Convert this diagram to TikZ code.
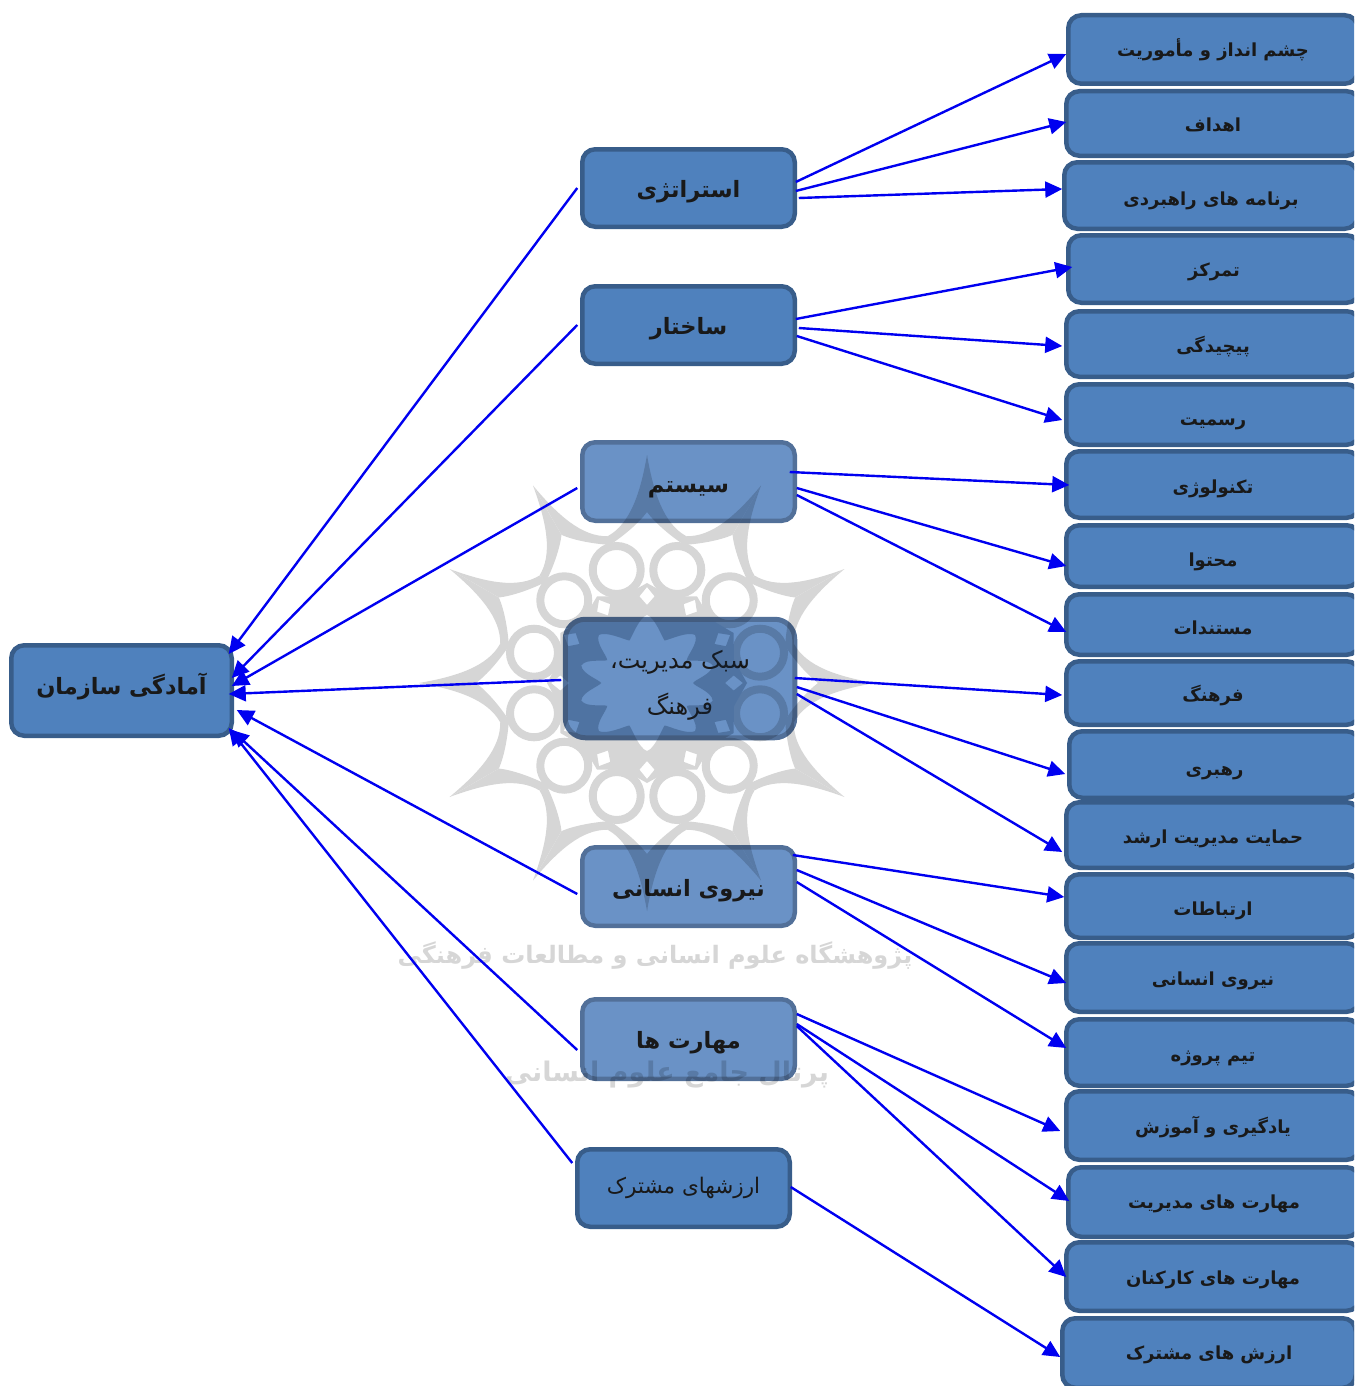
\documentclass[tikz,border=0pt]{standalone}
\usepackage{fontspec}
\usetikzlibrary{arrows.meta}
\TeXXeTstate=1
\newfontfamily\arf[Script=Arabic]{DejaVu Sans}
\newcommand\fa[2][0]{\raisebox{-#1pt}{\arf\beginR #2\endR}}
\definecolor{boxfill}{HTML}{4F81BD}
\definecolor{boxline}{HTML}{385D8A}
\definecolor{lightfill}{HTML}{6A92C6}
\definecolor{lightline}{HTML}{527099}
\definecolor{conncol}{HTML}{0000F0}
\definecolor{wmdark}{HTML}{1F4F90}
\tikzset{
  bx/.style={draw=boxline,fill=boxfill,line width=4.5pt,rounded corners=13pt,inner sep=0pt,outer sep=0pt,align=center,text=black!90},
  lightbx/.style={bx,draw=lightline,fill=lightfill},
  rtext/.style={font=\fontsize{18}{20}\selectfont\bfseries,text height=19pt,text depth=6pt},
  mtext/.style={font=\fontsize{22.5}{26}\selectfont\bfseries,text height=22pt,text depth=6pt},
  ntext/.style={font=\fontsize{21.5}{26}\selectfont,text height=20pt,text depth=6pt},
  sabktext/.style={font=\fontsize{24}{46}\selectfont},
  conn/.style={draw=conncol,line width=2.4pt,-{Triangle[length=17pt,width=16pt]}},
}
\newcommand\bxn[7]{% name x1 y1 x2 y2 style text
  \pgfmathsetmacro\bw{#4-#2-4.5}\pgfmathsetmacro\bh{#5-#3-4.5}
  \node[#6,minimum width=\bw pt,minimum height=\bh pt] (#1) at ({(#2+#4)/2},{(#3+#5)/2}) {#7};}
\newcommand\connR[6]{\draw[conn] ([shift={(#2pt,#3pt)}]#1.east) -- ([shift={(#5pt,#6pt)}]#4.west);}
\newcommand\connL[6]{\draw[conn] ([shift={(#2pt,#3pt)}]#1.west) -- ([shift={(#5pt,#6pt)}]#4.east);}
% central solid part of the watermark
\newcommand\wmdisc{
   (0:100) \foreach \a in {15,45,...,345}{ -- (\a:90) -- (\a+15:100)}
   -- cycle
   (90:68) \foreach \a/\b in {90/135,135/165,165/195,195/225,225/270,270/315,315/345,345/375,375/405,405/450}{
      .. controls ({\a+7}:66) and ({(\a+\b)/2-4}:48) .. ({(\a+\b)/2}:46)
      .. controls ({(\a+\b)/2+4}:48) and ({\b-7}:66) .. (\b:68)}
   -- cycle
   \foreach \a in {0,30,...,330}{ (\a:96) -- (\a+5:87) -- (\a:78) -- (\a-5:87) -- cycle}
}
\begin{document}
\begin{tikzpicture}[x=1pt,y=-1pt]
\useasboundingbox (0,0) rectangle (1354,1386);
\clip (0,0) rectangle (1354,1386);
% right column
\bxn{r1}{1066}{13}{1360}{86}{bx,rtext}{\fa[0.5]{چشم انداز و مأموریت}}
\bxn{r2}{1064}{89}{1362}{158}{bx,rtext}{\fa[1.5]{اهداف}}
\bxn{r3}{1062}{160}{1360}{231}{bx,rtext}{\fa[3.5]{برنامه های راهبردی}}
\bxn{r4}{1066}{233}{1362}{305}{bx,rtext}{\fa[1]{تمرکز}}
\bxn{r5}{1064}{309}{1362}{379}{bx,rtext}{\fa[2]{پیچیدگی}}
\bxn{r6}{1064}{382}{1362}{447}{bx,rtext}{\fa[4.5]{رسمیت}}
\bxn{r7}{1064}{449}{1362}{520}{bx,rtext}{\fa[2.5]{تکنولوژی}}
\bxn{r8}{1064}{523}{1362}{589}{bx,rtext}{\fa[4]{محتوا}}
\bxn{r9}{1064}{592}{1362}{657}{bx,rtext}{\fa[3.5]{مستندات}}
\bxn{r10}{1064}{659}{1362}{727}{bx,rtext}{\fa[2]{فرهنگ}}
\bxn{r11}{1067}{729}{1362}{800}{bx,rtext}{\fa[4.5]{رهبری}}
\bxn{r12}{1064}{800}{1362}{870}{bx,rtext}{\fa[2]{حمایت مدیریت ارشد}}
\bxn{r13}{1064}{872}{1362}{940}{bx,rtext}{\fa[3]{ارتباطات}}
\bxn{r14}{1064}{941}{1362}{1014}{bx,rtext}{\fa[1.5]{نیروی انسانی}}
\bxn{r15}{1064}{1017}{1362}{1088}{bx,rtext}{\fa[2.5]{تیم پروژه}}
\bxn{r16}{1064}{1089}{1362}{1162}{bx,rtext}{\fa[1.5]{یادگیری و آموزش}}
\bxn{r17}{1066}{1165}{1362}{1239}{bx,rtext}{\fa[0]{مهارت های مدیریت}}
\bxn{r18}{1064}{1240}{1362}{1313}{bx,rtext}{\fa[1.5]{مهارت های کارکنان}}
\bxn{r19}{1060}{1316}{1358}{1390}{bx,rtext}{\fa[0]{ارزش های مشترک}}
% middle column
\bxn{strat}{580}{147}{797}{229}{bx,mtext}{\fa[1]{استراتژی}}
\bxn{sakh}{580}{284}{797}{366}{bx,mtext}{\fa[1]{ساختار}}
\bxn{sist}{580}{440}{797}{523}{lightbx,mtext}{\fa[3]{سیستم}}
\bxn{sabk}{563}{617}{797}{740}{lightbx,line width=5pt,rounded corners=20pt,sabktext}{\rule{0pt}{32pt}\fa{سبک مدیریت،}\\\fa{فرهنگ}}
\bxn{niru}{580}{845}{797}{928}{lightbx,mtext}{\fa[1.5]{نیروی انسانی}}
\bxn{mahar}{580}{997}{797}{1081}{lightbx,mtext}{\fa[1]{مهارت ها}}
\bxn{arz}{575}{1147}{792}{1229}{bx,ntext}{\fa[-2]{ارزشهای مشترک}}
\bxn{root}{9}{643}{234}{738}{bx,mtext}{\fa[-4]{آمادگی سازمان}}
% watermark
\begin{scope}[transparency group,opacity=.16,x=1pt,y=1pt,shift={(647,-683)}]
 \fill[even odd rule,black] \wmdisc;
 \foreach \a in {15,45,...,345}{
   \draw[black,line width=8pt] (\a:117) circle (24pt);
   \draw[black,line width=7pt] (\a:138) -- (\a:150);
 }
 \foreach \a in {0,30,...,330}{
   \fill[black] (\a:228) .. controls (\a+2:190) and (\a+6:160) .. (\a+15:152)
      -- (\a+15:143) .. controls (\a+9:149) and (\a+3:160) .. (\a:171) -- cycle;
   \fill[black] (\a:228) .. controls (\a-2:190) and (\a-6:160) .. (\a-15:152)
      -- (\a-15:143) .. controls (\a-9:149) and (\a-3:160) .. (\a:171) -- cycle;
 }
 \node[font=\fontsize{24}{40}\selectfont\bfseries,text=black] (wm1) at (8,-273) {\fa{پژوهشگاه علوم انسانی و مطالعات فرهنگی}};
 \node[font=\fontsize{27}{40}\selectfont\bfseries,text=black] (wm2) at (20,-392) {\fa{پرتال جامع علوم انسانی}};
\end{scope}
% extra darkening of the watermark inside the sabk box
\begin{scope}
 \clip[rounded corners=18pt] ([shift={(2.5pt,-2.5pt)}]sabk.north west) rectangle ([shift={(-2.5pt,2.5pt)}]sabk.south east);
 \begin{scope}[x=1pt,y=1pt,shift={(647,-683)}]
  \fill[even odd rule,wmdark,opacity=.14] \wmdisc;
 \end{scope}
\end{scope}
% connectors to root
\connL{strat}{-5}{0}{root}{-3}{36.5}
\connL{sakh}{-5}{0}{root}{0}{12.5}
\connL{sist}{-5}{-6.5}{root}{0}{4.5}
\connL{sabk}{-4}{-1.5}{root}{-3}{-3.5}
\connL{niru}{-5}{-7.5}{root}{5}{-19.5}
\connL{mahar}{-5}{-11}{root}{0}{-39.5}
\connL{arz}{-5}{25}{root}{-3}{-37.5}
% connectors to right
\connR{strat}{1}{6}{r1}{-2}{-4.5}
\connR{strat}{1}{-3}{r2}{0}{1.5}
\connR{strat}{4}{-10}{r3}{-2}{6.5}
\connR{sakh}{1}{6}{r4}{4}{2}
\connR{sakh}{4}{-3}{r5}{-4}{-2}
\connR{sakh}{2}{-11}{r6}{-4}{-5.5}
\connR{sist}{-5}{9.5}{r7}{3}{-0.5}
\connR{sist}{2}{-6.5}{r8}{0}{-10}
\connR{sist}{2}{-13.5}{r9}{0}{-7.5}
\connR{sabk}{0}{0.5}{r10}{-4}{-2}
\connR{sabk}{2}{-8.5}{r11}{-4}{-9.5}
\connR{sabk}{2}{-15.5}{r12}{-4}{-17}
\connR{niru}{-2}{31.5}{r13}{-2}{9}
\connR{niru}{2}{16.5}{r14}{0}{-5.5}
\connR{niru}{2}{4.5}{r15}{0}{4.5}
\connR{mahar}{2}{25}{r16}{-6}{-5.5}
\connR{mahar}{2}{15}{r17}{1}{1}
\connR{mahar}{2}{13}{r18}{0}{-0.5}
\connR{arz}{1}{1}{r19}{-2}{-4}
\end{tikzpicture}
\end{document}
